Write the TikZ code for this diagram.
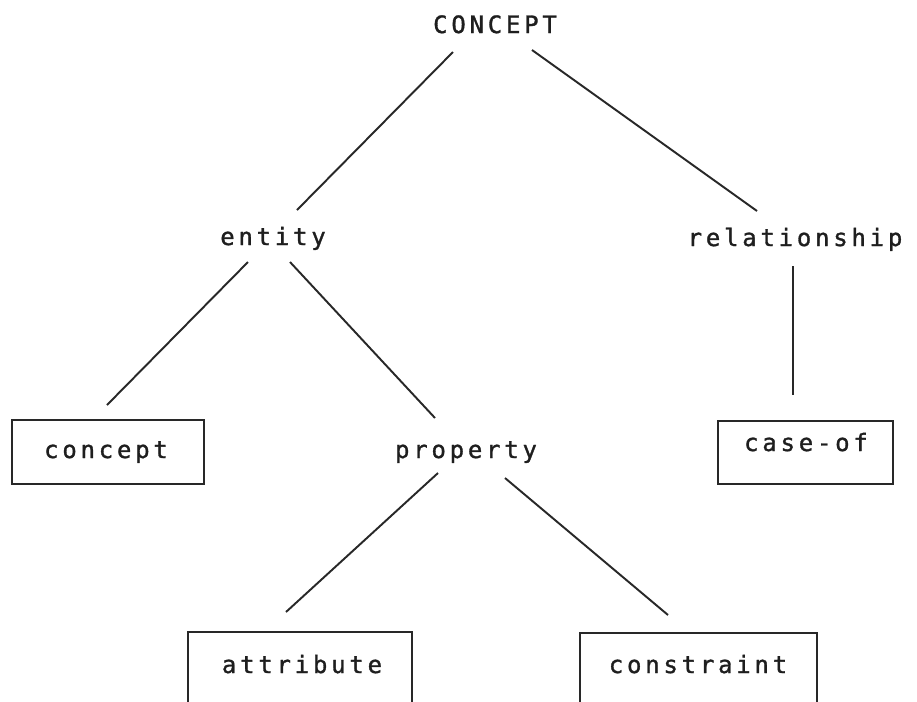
\documentclass[tikz,border=0pt]{standalone}
\usepackage{fontspec}
\newfontfamily\plotfont[LetterSpace=16,FakeBold=1.3]{DejaVu Sans Mono}
\begin{document}
\begin{tikzpicture}[x=0.02cm,y=-0.02cm,
  ink/.style={line width=1.1pt,draw={rgb,255:red,40;green,40;blue,40}},
  label/.style={anchor=base,inner sep=0pt,text={rgb,255:red,30;green,30;blue,30},
    font=\plotfont\fontsize{13.6}{16}\selectfont},
  framebox/.style={ink}]
\useasboundingbox (0,0) rectangle (917,701);
\clip (0,0) rectangle (917,701);

% labels of the hierarchy
\node[label] (top)  at (495,33)  {CONCEPT};
\node[label] (ent)  at (273,245) {entity};
\node[label] (rel)  at (795,246) {relationship};
\node[label] (con)  at (106,458) {concept};
\node[label] (prop) at (466,458) {property};
\node[label] (cas)  at (806,451) {case-of};
\node[label] (att)  at (302,673) {attribute};
\node[label] (cst)  at (698,673) {constraint};

% frames around the leaf terms (the lower two run off the bottom edge)
\draw[framebox] (12,420) rectangle (204,484);
\draw[framebox] (718,421) rectangle (893,484);
\draw[framebox] (188,632) rectangle (412,720);
\draw[framebox] (580,633) rectangle (817,720);

% end points of the connectors
\coordinate (top-l) at (453,52);
\coordinate (top-r) at (532,50);
\coordinate (ent-t) at (297,210);
\coordinate (rel-t) at (757,211);
\coordinate (ent-l) at (248,262);
\coordinate (ent-r) at (290,262);
\coordinate (con-t) at (107,405);
\coordinate (prop-t) at (435,418);
\coordinate (rel-b) at (793,266);
\coordinate (cas-t) at (793,395);
\coordinate (prop-l) at (438,473);
\coordinate (prop-r) at (505,478);
\coordinate (att-t) at (286,612);
\coordinate (cst-t) at (668,615);

% connectors
\draw[ink] (top-l) -- (ent-t);
\draw[ink] (top-r) -- (rel-t);
\draw[ink] (ent-l) -- (con-t);
\draw[ink] (ent-r) -- (prop-t);
\draw[ink] (rel-b) -- (cas-t);
\draw[ink] (prop-l) -- (att-t);
\draw[ink] (prop-r) -- (cst-t);
\end{tikzpicture}
\end{document}
